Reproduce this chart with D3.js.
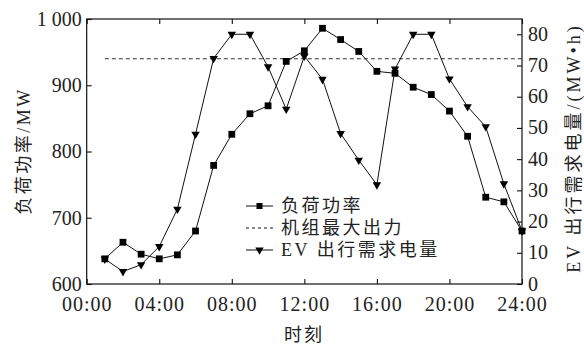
<!DOCTYPE html>
<html>
<head>
<meta charset="utf-8">
<script src="https://cdn.jsdelivr.net/npm/d3@7"></script>
<style type="text/css">
body, html{
  margin:0;
  padding:0;
  background:#fff;
}
svg text{
  font-family: "Liberation Serif", "Noto Sans CJK SC", serif;
  fill:#222;
}
</style>
</head>
<body>
<svg id='chart' width='584' height='346'></svg>
<script>
// hours 1..24, values
var hours = [1,2,3,4,5,6,7,8,9,10,11,12,13,14,15,16,17,18,19,20,21,22,23,24]
var load = [638,663,645,638,644,680,779,826,857,869,936,952,986,969,951,921,918,897,886,861,823,731,724,680]
var evDemand = [8,4,6.2,12,24,48,72.3,80,80,69.6,56,73,65.6,48.2,39.7,31.8,68.9,80,80,65.7,56.8,50.4,32.1,17]
var maxOutput = 940
var xTicks = [0,4,8,12,16,20,24]
var xTickLabels = ['00:00','04:00','08:00','12:00','16:00','20:00','24:00']
var leftTicks = [600,700,800,900,1000]
var leftTickLabels = ['600','700','800','900','1 000']
var rightTicks = [0,10,20,30,40,50,60,70,80]
var legendNames = ['负荷功率','机组最大出力','EV 出行需求电量']

var L = 86.7, R = 522, T = 19, B = 284
var svg = d3.select('#chart')
var x = d3.scaleLinear().domain([0,24]).range([L,R])
var yL = d3.scaleLinear().domain([600,1000]).range([B,T])
var yR = d3.scaleLinear().domain([0,84.9]).range([B,T])

// frame
svg.append('rect').attr('x',L).attr('y',T).attr('width',R-L).attr('height',B-T)
  .attr('fill','none').attr('stroke','#111').attr('stroke-width',1.2)

function styleAxis(g){
  g.select('.domain').remove()
  g.selectAll('line').attr('stroke','#111').attr('stroke-width',1.1)
  g.selectAll('text').attr('font-size',20).attr('fill','#222')
    .attr('font-family','"Liberation Serif", serif')
}

var axBottom = svg.append('g').attr('transform','translate(0,'+B+')')
  .call(d3.axisBottom(x).tickValues(xTicks).tickSizeInner(-5).tickSizeOuter(0).tickPadding(7)
    .tickFormat(function(d,i){ return xTickLabels[i] }))
styleAxis(axBottom)
axBottom.selectAll('text').attr('letter-spacing',1).attr('dy','0.98em')

var axTop = svg.append('g').attr('transform','translate(0,'+T+')')
  .call(d3.axisTop(x).tickValues(xTicks).tickSizeInner(-5).tickSizeOuter(0).tickFormat(''))
styleAxis(axTop)

var axLeft = svg.append('g').attr('transform','translate('+L+',0)')
  .call(d3.axisLeft(yL).tickValues(leftTicks).tickSizeInner(-5).tickSizeOuter(0).tickPadding(5)
    .tickFormat(function(d,i){ return leftTickLabels[i] }))
styleAxis(axLeft)

var axRight = svg.append('g').attr('transform','translate('+R+',0)')
  .call(d3.axisRight(yR).tickValues(rightTicks).tickSizeInner(-5).tickSizeOuter(0).tickPadding(6))
styleAxis(axRight)
axRight.selectAll('text').attr('dy','0.3em')

// dashed max output line
svg.append('line').attr('x1',x(1)).attr('x2',x(24)).attr('y1',yL(maxOutput)).attr('y2',yL(maxOutput))
  .attr('stroke','#333').attr('stroke-width',1.2).attr('stroke-dasharray','4,3')

var loadLine = d3.line().x(function(d,i){ return x(hours[i]) }).y(function(d){ return yL(d) })
var evLine = d3.line().x(function(d,i){ return x(hours[i]) }).y(function(d){ return yR(d) })

svg.append('path').attr('d',loadLine(load)).attr('fill','none').attr('stroke','#111').attr('stroke-width',1)
svg.append('path').attr('d',evLine(evDemand)).attr('fill','none').attr('stroke','#111').attr('stroke-width',1)

var sq = d3.symbol().type(d3.symbolSquare).size(46)
var tri = d3.symbol().type(d3.symbolTriangle).size(31)

svg.selectAll('path.sq').data(load).enter().append('path').attr('class','sq')
  .attr('d',sq).attr('fill','#000')
  .attr('transform',function(d,i){ return 'translate('+x(hours[i])+','+yL(d)+')' })
svg.selectAll('path.tri').data(evDemand).enter().append('path').attr('class','tri')
  .attr('d',tri).attr('fill','#000')
  .attr('transform',function(d,i){ return 'translate('+x(hours[i])+','+yR(d)+') rotate(180)' })

// legend
var lg = svg.append('g')
var rowY = [206,228,250]
legendNames.forEach(function(name,i){
  var ly = rowY[i]
  var ln = lg.append('line').attr('x1',246).attr('x2',273).attr('y1',ly).attr('y2',ly)
    .attr('stroke','#111').attr('stroke-width',1)
  if(i==1) ln.attr('stroke-dasharray','3,3')
  if(i==0) lg.append('path').attr('d',d3.symbol().type(d3.symbolSquare).size(36)).attr('fill','#000')
    .attr('transform','translate(259.5,'+ly+')')
  if(i==2) lg.append('path').attr('d',d3.symbol().type(d3.symbolTriangle).size(30)).attr('fill','#000')
    .attr('transform','translate(259.5,'+ly+') rotate(180)')
  lg.append('text').attr('x',281).attr('y',ly).attr('dy','0.35em').attr('font-size',18)
    .attr('letter-spacing',2.5).text(name)
})

// axis titles
svg.append('text').attr('transform','translate(30,151) rotate(-90)').attr('text-anchor','middle')
  .attr('font-size',18).attr('letter-spacing',2.5).text('负荷功率/MW')
svg.append('text').attr('transform','translate(580,148) rotate(-90)').attr('text-anchor','middle')
  .attr('font-size',18).attr('letter-spacing',3).text('EV 出行需求电量/(MW•h)')
svg.append('text').attr('x',304).attr('y',341).attr('text-anchor','middle')
  .attr('font-size',18).attr('letter-spacing',2).text('时刻')
</script>
</body>
</html>
